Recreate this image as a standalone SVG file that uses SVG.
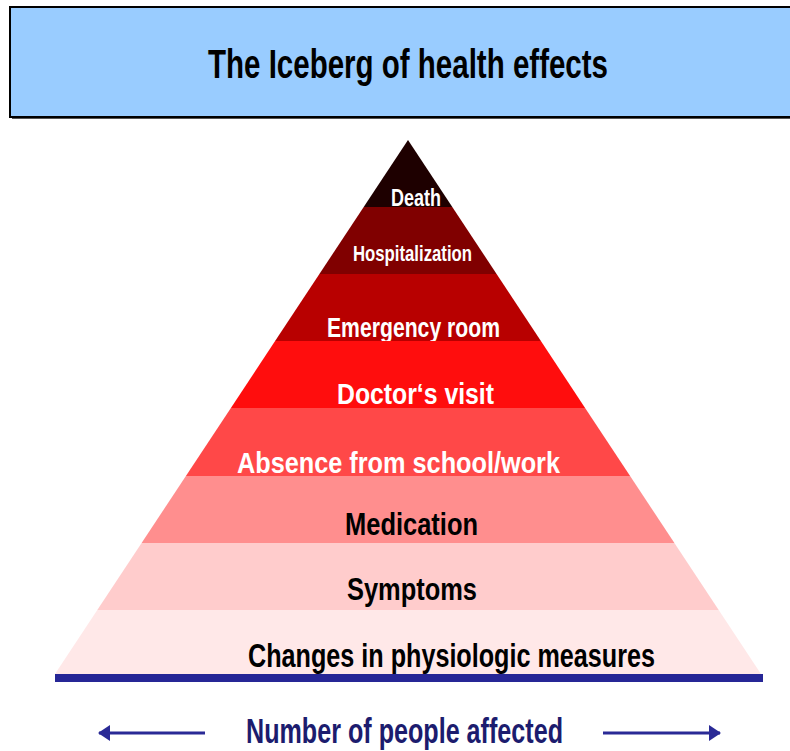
<svg xmlns="http://www.w3.org/2000/svg" width="790" height="751" viewBox="0 0 790 751">
<defs>
<style>
.t{font-family:"Liberation Sans",Arial,sans-serif;font-weight:bold;text-anchor:start}
.w{fill:#ffffff}
.k{fill:#000000}
.n{fill:#1c1c6e}
.conn{stroke:#2a2a96;stroke-width:3;fill:none}
</style>
<marker id="ah" markerWidth="12" markerHeight="16" refX="11" refY="8" orient="auto" markerUnits="userSpaceOnUse">
<path d="M0,0 L12,8 L0,16 Z" fill="#2a2a96"/>
</marker>
</defs>
<rect width="790" height="751" fill="#ffffff"/>
<g id="title">
<rect x="12" y="9" width="800" height="110" fill="#555555"/>
<rect x="10" y="7" width="800" height="110" fill="#99ccff" stroke="#000000" stroke-width="2"/>
<text class="t k" x="208" y="78" font-size="41" textLength="400" lengthAdjust="spacingAndGlyphs">The Iceberg of health effects</text>
</g>
<g id="band-death">
<polygon points="408,140 452.3,207 363.7,207" fill="#1e0000"/>
<text class="t w" x="391" y="206" font-size="24" textLength="50" lengthAdjust="spacingAndGlyphs">Death</text>
</g>
<g id="band-hospitalization">
<polygon points="363.7,207 452.3,207 496.6,274 319.4,274" fill="#800000"/>
<text class="t w" x="353" y="261" font-size="22" textLength="119" lengthAdjust="spacingAndGlyphs">Hospitalization</text>
</g>
<g id="band-emergency">
<polygon points="319.4,274 496.6,274 540.9,341 275.1,341" fill="#b80000"/>
<text class="t w" x="327" y="337" font-size="28" textLength="173" lengthAdjust="spacingAndGlyphs">Emergency room</text>
</g>
<g id="band-doctor">
<polygon points="275.1,341 540.9,341 585.1,408 230.9,408" fill="#ff0d0d"/>
<text class="t w" x="337" y="404" font-size="30" textLength="157" lengthAdjust="spacingAndGlyphs">Doctor‘s visit</text>
</g>
<g id="band-absence">
<polygon points="230.9,408 585.1,408 630.1,476 185.9,476" fill="#ff4848"/>
<text class="t w" x="237" y="473" font-size="30" textLength="323" lengthAdjust="spacingAndGlyphs">Absence from school/work</text>
</g>
<g id="band-medication">
<polygon points="185.9,476 630.1,476 674.4,543 141.6,543" fill="#ff8e8e"/>
<text class="t k" x="345" y="535" font-size="31" textLength="133" lengthAdjust="spacingAndGlyphs">Medication</text>
</g>
<g id="band-symptoms">
<polygon points="141.6,543 674.4,543 718.7,610 97.3,610" fill="#ffcccc"/>
<text class="t k" x="347" y="600" font-size="31" textLength="130" lengthAdjust="spacingAndGlyphs">Symptoms</text>
</g>
<g id="band-changes">
<polygon points="97.3,610 718.7,610 761,674 55,674" fill="#ffe8e8"/>
<text class="t k" x="248" y="667" font-size="33" textLength="407" lengthAdjust="spacingAndGlyphs">Changes in physiologic measures</text>
</g>
<g id="baseline">
<rect x="55" y="674" width="708" height="8" fill="#262696"/>
</g>
<g id="axis-label">
<text class="t n" x="246" y="743" font-size="35" textLength="317" lengthAdjust="spacingAndGlyphs">Number of people affected</text>
</g>
<g id="connectors">
<line class="conn" x1="205" y1="733" x2="99" y2="733" marker-end="url(#ah)"/>
<line class="conn" x1="603" y1="733" x2="720" y2="733" marker-end="url(#ah)"/>
</g>
</svg>
